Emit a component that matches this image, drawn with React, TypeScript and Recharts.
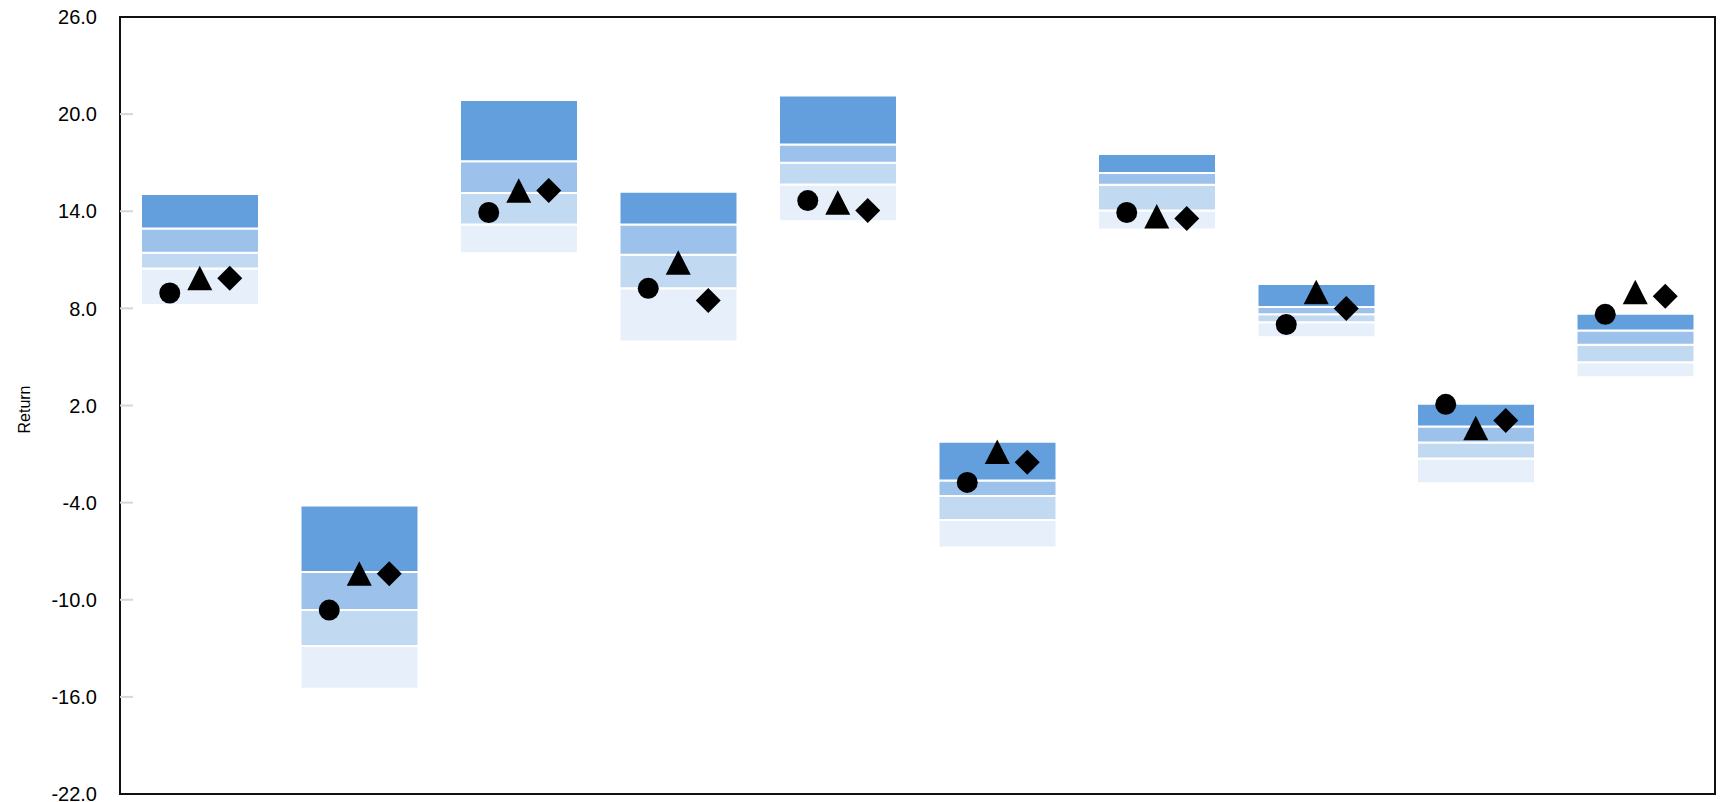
import {
  ComposedChart,
  Bar,
  Scatter,
  XAxis,
  YAxis,
  ReferenceArea,
} from 'recharts'

const categories = ['Fund 1', 'Fund 2', 'Fund 3', 'Fund 4', 'Fund 5', 'Fund 6', 'Fund 7', 'Fund 8', 'Fund 9', 'Fund 10']

// percentile bands, bottom to top
const p5 = [8.21, -15.5, 11.4, 5.96, 13.38, -6.77, 12.87, 6.21, -2.81, 3.74]
const p25 = [10.46, -12.86, 13.18, 9.24, 15.65, -5.08, 14.04, 7.14, -1.27, 4.67]
const p50 = [11.44, -10.64, 15.13, 11.32, 16.99, -3.59, 15.63, 7.63, -0.28, 5.76]
const p75 = [12.93, -8.29, 17.09, 13.18, 18.12, -2.63, 16.37, 8.09, 0.71, 6.64]
const p95 = [15.07, -4.17, 20.88, 15.2, 21.15, -0.24, 17.54, 9.51, 2.11, 7.67]

// markers
const circleVals = [8.95, -10.64, 13.92, 9.24, 14.66, -2.75, 13.92, 7.0, 2.07, 7.63]
const triangleVals = [9.86, -8.4, 15.26, 10.82, 14.52, -0.88, 13.68, 9.0, 0.6, 8.99]
const diamondVals = [9.86, -8.4, 15.28, 8.48, 14.04, -1.51, 13.55, 8.0, 1.08, 8.75]

const yTicks = [-22, -16, -10, -4, 2, 8, 14, 20, 26]

const data = categories.map((name, i) => ({
  name,
  base: p5[i],
  band1: p25[i] - p5[i],
  band2: p50[i] - p25[i],
  band3: p75[i] - p50[i],
  band4: p95[i] - p75[i],
  circle: circleVals[i],
  triangle: triangleVals[i],
  diamond: diamondVals[i],
}))

const FONT = '"Liberation Sans", Arial, sans-serif'
const OFFSET = 30
const BAR_W = 118

function YTick({ x, y, payload }: any) {
  const v = payload.value
  const edge = v === yTicks[0] || v === yTicks[yTicks.length - 1]
  return (
    <g>
      {!edge && (
        <line x1={x + 23} x2={x + 36} y1={y} y2={y} stroke="#d6d6d6" strokeWidth={2} />
      )}
      <text x={x} y={y} dy="0.36em" textAnchor="end" fontSize={20} fontFamily={FONT} fill="#000">
        {v.toFixed(1)}
      </text>
    </g>
  )
}

function YLabel({ viewBox }: any) {
  const cx = viewBox.x + 24
  const cy = viewBox.y + viewBox.height / 2 + 4
  return (
    <text
      x={cx}
      y={cy}
      dy="0.36em"
      textAnchor="middle"
      transform={`rotate(-90 ${cx} ${cy})`}
      fontSize={16}
      fontFamily={FONT}
      fill="#000"
    >
      Return
    </text>
  )
}

const circleShape = (p: any) => <circle cx={p.cx - OFFSET} cy={p.cy} r={10.5} fill="#000" />
const triangleShape = (p: any) => (
  <polygon
    points={`${p.cx},${p.cy - 12.5} ${p.cx - 12.5},${p.cy + 12} ${p.cx + 12.5},${p.cy + 12}`}
    fill="#000"
  />
)
const diamondShape = (p: any) => {
  const x = p.cx + OFFSET
  const y = p.cy
  return <polygon points={`${x},${y - 12.5} ${x + 12.5},${y} ${x},${y + 12.5} ${x - 12.5},${y}`} fill="#000" />
}

export default function App() {
  return (
    <div style={{ position: 'absolute', left: 0, top: 0 }}>
      <ComposedChart
        width={1722}
        height={802}
        data={data}
        margin={{ top: 17, right: 7, bottom: 8, left: 0 }}
        barSize={BAR_W}
      >
        <XAxis dataKey="name" hide />
        <YAxis
          domain={[-22, 26]}
          ticks={yTicks}
          width={120}
          axisLine={false}
          tickLine={false}
          tickSize={0}
          tickMargin={23}
          tick={<YTick />}
          interval={0}
          label={{ content: <YLabel /> }}
        />
        <Bar dataKey="base" stackId="s" fill="transparent" barSize={BAR_W} isAnimationActive={false} />
        <Bar dataKey="band1" stackId="s" fill="#E7F0FA" stroke="#fff" strokeWidth={2} barSize={BAR_W} isAnimationActive={false} />
        <Bar dataKey="band2" stackId="s" fill="#C2D9F2" stroke="#fff" strokeWidth={2} barSize={BAR_W} isAnimationActive={false} />
        <Bar dataKey="band3" stackId="s" fill="#9CC1EA" stroke="#fff" strokeWidth={2} barSize={BAR_W} isAnimationActive={false} />
        <Bar dataKey="band4" stackId="s" fill="#649FDD" stroke="#fff" strokeWidth={2} barSize={BAR_W} isAnimationActive={false} />
        <Scatter dataKey="circle" shape={circleShape} isAnimationActive={false} />
        <Scatter dataKey="triangle" shape={triangleShape} isAnimationActive={false} />
        <Scatter dataKey="diamond" shape={diamondShape} isAnimationActive={false} />
        <ReferenceArea y1={-22} y2={26} fill="none" stroke="#111" strokeWidth={2} ifOverflow="visible" />
      </ComposedChart>
    </div>
  )
}
